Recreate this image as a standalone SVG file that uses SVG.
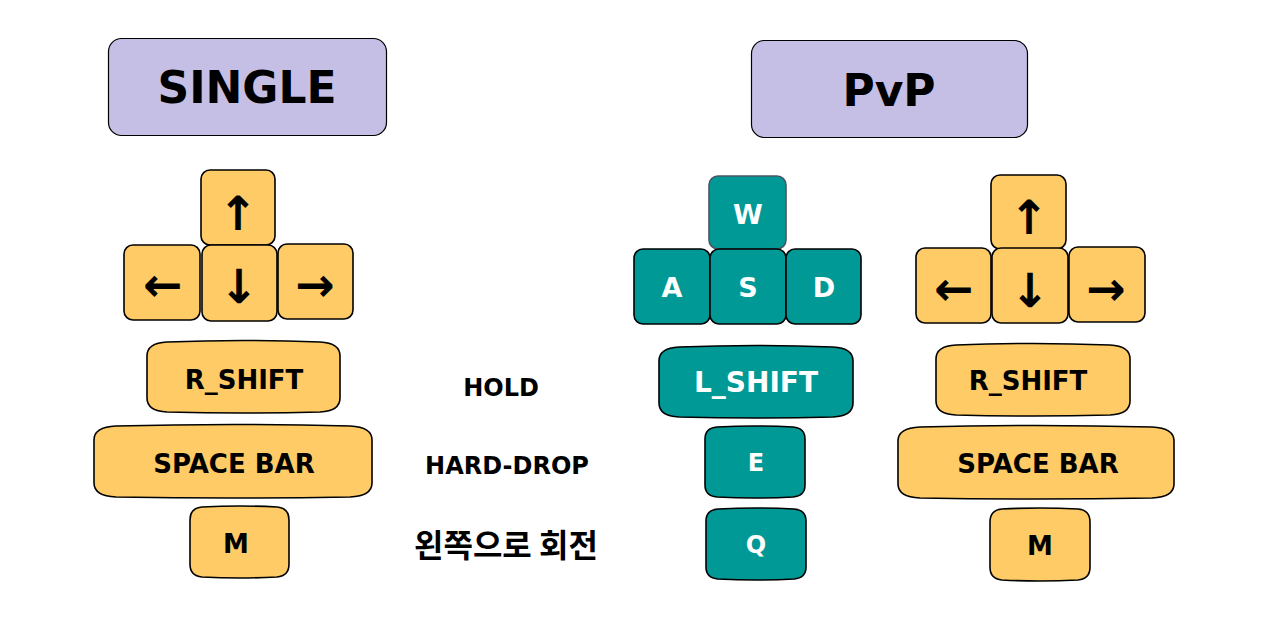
<svg xmlns="http://www.w3.org/2000/svg" width="1263" height="620" viewBox="0 0 1263 620">
<style>
.title{fill:#C6BFE5;stroke:#000;stroke-width:1.2}
.ttl{font-family:"DejaVu Sans",sans-serif;font-weight:bold;font-size:44px;fill:#000;text-anchor:middle}
.yk{fill:#FECB66;stroke:#000;stroke-width:1.6}
.tk{fill:#009996;stroke:#000;stroke-width:1.6}
.ar{font-family:"DejaVu Sans",sans-serif;font-weight:bold;font-size:47px;fill:#000;text-anchor:middle}
.kl{font-family:"DejaVu Sans",sans-serif;font-weight:bold;font-size:26px;fill:#000;text-anchor:middle}
.wl{font-family:"DejaVu Sans",sans-serif;font-weight:bold;font-size:27px;fill:#fff;text-anchor:middle}
.wl2{font-family:"DejaVu Sans",sans-serif;font-weight:bold;font-size:24px;fill:#fff;text-anchor:middle}
.lb{font-family:"DejaVu Sans","Noto Sans CJK KR",sans-serif;font-weight:bold;font-size:24px;fill:#000;text-anchor:middle}
.kr{font-family:"Noto Sans CJK KR",sans-serif;font-weight:bold;font-size:32px;fill:#000;text-anchor:middle}
</style>
<g id="single-title"><rect class="title" x="108.5" y="38.5" width="278" height="97" rx="13"/><text class="ttl" x="247" y="103">SINGLE</text></g>
<g id="pvp-title"><rect class="title" x="751.5" y="40.5" width="276" height="97" rx="13"/><text class="ttl" x="889" y="106">PvP</text></g>

<g id="s-up"><rect class="yk" x="201" y="170" width="74" height="75" rx="9"/><text class="ar" x="238" y="230">↑</text></g>
<g id="s-left"><rect class="yk" x="124" y="245" width="76" height="75" rx="9"/><text class="ar" x="163" y="301">←</text></g>
<g id="s-down"><rect class="yk" x="202" y="245" width="75" height="76" rx="9"/><text class="ar" x="239" y="303">↓</text></g>
<g id="s-right"><rect class="yk" x="278" y="244" width="75" height="75" rx="9"/><text class="ar" x="315" y="301">→</text></g>

<g id="s-rshift"><path class="yk" d="M147,356 Q147,343 167,342 Q243,339 320,342 Q340,343 340,356 L340,398 Q340,411 320,412 Q243,414 167,412 Q147,411 147,398 Z"/><text class="kl" x="244" y="389">R_SHIFT</text></g>
<g id="s-space"><path class="yk" d="M94,440 Q94,427 116,426 Q233,423 350,426 Q372,427 372,440 L372,483 Q372,496 350,497 Q233,499 116,497 Q94,496 94,483 Z"/><text class="kl" x="234" y="473">SPACE BAR</text></g>
<g id="s-m"><path class="yk" d="M190,520 Q190,508 202,507 Q240,505 277,507 Q289,508 289,520 L289,564 Q289,576 277,577 Q240,579 202,577 Q190,576 190,564 Z"/><text class="kl" x="236" y="553">M</text></g>

<g id="label-hold"><text class="lb" x="501" y="396">HOLD</text></g>
<g id="label-harddrop"><text class="lb" x="507" y="474">HARD-DROP</text></g>
<g id="label-rotate"><text class="kr" x="506" y="557">왼쪽으로 회전</text></g>

<g id="p-w"><rect class="tk" x="709" y="176" width="77" height="73" rx="9" style="stroke:#4A5566"/><text class="wl" x="748" y="224">W</text></g>
<g id="p-a"><rect class="tk" x="634" y="249" width="76" height="75" rx="9"/><text class="wl" x="672" y="297">A</text></g>
<g id="p-s"><rect class="tk" x="710" y="249" width="76" height="75" rx="9"/><text class="wl" x="748" y="297">S</text></g>
<g id="p-d"><rect class="tk" x="786" y="249" width="75" height="75" rx="9"/><text class="wl" x="824" y="297">D</text></g>

<g id="p-lshift"><path class="tk" d="M659,361 Q659,348 679,347 Q756,344 833,347 Q853,348 853,361 L853,403 Q853,416 833,417 Q756,419 679,417 Q659,416 659,403 Z"/><text class="wl2" x="756" y="392" style="font-size:28px">L_SHIFT</text></g>
<g id="p-e"><path class="tk" d="M705,439 Q705,428 717,427 Q755,425 793,427 Q805,428 805,439 L805,485 Q805,496 793,497 Q755,499 717,497 Q705,496 705,485 Z"/><text class="wl2" x="756" y="471">E</text></g>
<g id="p-q"><path class="tk" d="M706,521 Q706,510 718,509 Q756,507 794,509 Q806,510 806,521 L806,567 Q806,578 794,579 Q756,581 718,579 Q706,578 706,567 Z"/><text class="wl2" x="756" y="553">Q</text></g>

<g id="p-up"><rect class="yk" x="991" y="175" width="75" height="74" rx="9"/><text class="ar" x="1029" y="234">↑</text></g>
<g id="p-left"><rect class="yk" x="916" y="248" width="75" height="75" rx="9"/><text class="ar" x="954" y="305">←</text></g>
<g id="p-down"><rect class="yk" x="992" y="248" width="76" height="75" rx="9"/><text class="ar" x="1030" y="307">↓</text></g>
<g id="p-right"><rect class="yk" x="1069" y="247" width="76" height="75" rx="9"/><text class="ar" x="1106" y="305">→</text></g>

<g id="p-rshift"><path class="yk" d="M936,359 Q936,346 956,345 Q1033,342 1110,345 Q1130,346 1130,359 L1130,401 Q1130,414 1110,415 Q1033,417 956,415 Q936,414 936,401 Z"/><text class="kl" x="1028" y="390">R_SHIFT</text></g>
<g id="p-space"><path class="yk" d="M898,441 Q898,428 920,427 Q1036,424 1152,427 Q1174,428 1174,441 L1174,484 Q1174,497 1152,498 Q1036,500 920,498 Q898,497 898,484 Z"/><text class="kl" x="1038" y="473">SPACE BAR</text></g>
<g id="p-m"><path class="yk" d="M990,522 Q990,510 1002,509 Q1040,507 1078,509 Q1090,510 1090,522 L1090,567 Q1090,579 1078,580 Q1040,582 1002,580 Q990,579 990,567 Z"/><text class="kl" x="1040" y="555">M</text></g>
<g id="connectors"/>
</svg>
